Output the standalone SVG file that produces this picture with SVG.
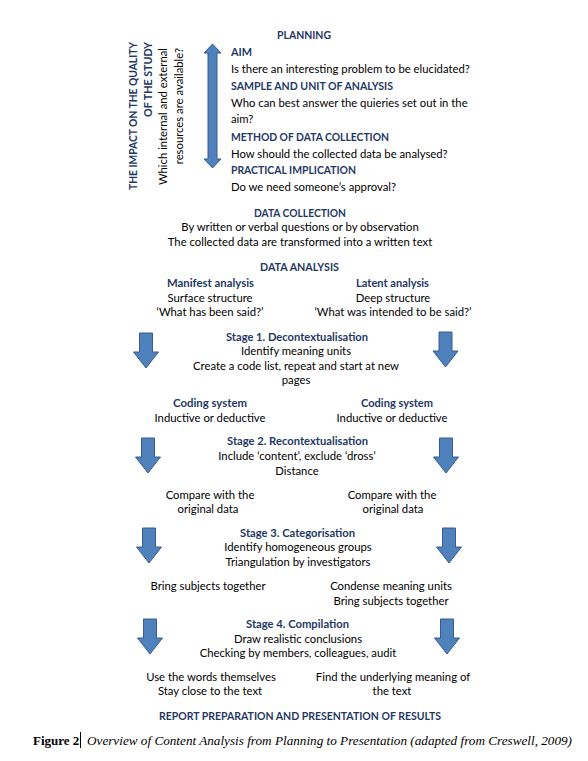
<svg xmlns="http://www.w3.org/2000/svg" width="588" height="761" viewBox="0 0 588 761">
<style>
.h{font-family:Lato,"Open Sans",sans-serif;font-weight:bold;font-size:11.5px;fill:#1F3864}
.t{font-family:Lato,"Open Sans",sans-serif;font-size:11.3px;fill:#000}
.m{text-anchor:middle}
.e{text-anchor:end}
.arr{fill:#4F81BD;stroke:#385D8A;stroke-width:1}
</style>
<defs>
<path id="down" d="M-6.5,0 L6.5,0 L6.5,19 L12.5,19 L0,35 L-12.5,19 L-6.5,19 Z"/>
</defs>
<rect width="588" height="761" fill="#fff"/>

<g id="connectors">
<path class="arr" d="M212.5,44 L221,53 L217,53 L217,159 L221,159 L212.5,168 L204,159 L208,159 L208,53 L204,53 Z"/>
<use href="#down" class="arr" transform="translate(146,333)"/>
<use href="#down" class="arr" transform="translate(445.5,332)"/>
<use href="#down" class="arr" transform="translate(148,438)"/>
<use href="#down" class="arr" transform="translate(446,438)"/>
<use href="#down" class="arr" transform="translate(149,528)"/>
<use href="#down" class="arr" transform="translate(449,528)"/>
<use href="#down" class="arr" transform="translate(150,619)"/>
<use href="#down" class="arr" transform="translate(447,619)"/>
</g>

<g id="impact">
<text class="h e" transform="translate(137,42) rotate(-90)" textLength="148" lengthAdjust="spacingAndGlyphs">THE IMPACT ON THE QUALITY</text>
<text class="h e" transform="translate(152,42) rotate(-90)" textLength="75" lengthAdjust="spacingAndGlyphs">OF THE STUDY</text>
<text class="t e" transform="translate(167,48) rotate(-90)">Which internal and external</text>
<text class="t e" transform="translate(183,48) rotate(-90)">resources are available?</text>
</g>

<g id="planning">
<text class="h" x="277" y="39" textLength="54" lengthAdjust="spacingAndGlyphs">PLANNING</text>
<text class="h" x="231" y="56" textLength="21" lengthAdjust="spacingAndGlyphs">AIM</text>
<text class="t" x="231" y="73">Is there an interesting problem to be elucidated?</text>
<text class="h" x="231" y="90" textLength="162" lengthAdjust="spacingAndGlyphs">SAMPLE AND UNIT OF ANALYSIS</text>
<text class="t" x="231" y="107">Who can best answer the quieries set out in the</text>
<text class="t" x="231" y="123">aim?</text>
<text class="h" x="231" y="141" textLength="158" lengthAdjust="spacingAndGlyphs">METHOD OF DATA COLLECTION</text>
<text class="t" x="231" y="158">How should the collected data be analysed?</text>
<text class="h" x="231" y="174" textLength="125" lengthAdjust="spacingAndGlyphs">PRACTICAL IMPLICATION</text>
<text class="t" x="231" y="191">Do we need someone’s approval?</text>
</g>

<g id="data-collection">
<text class="h" x="254" y="217" textLength="92" lengthAdjust="spacingAndGlyphs">DATA COLLECTION</text>
<text class="t m" x="300" y="231">By written or verbal questions or by observation</text>
<text class="t m" x="300" y="246">The collected data are transformed into a written text</text>
</g>

<g id="data-analysis">
<text class="h" x="260" y="271" textLength="79" lengthAdjust="spacingAndGlyphs">DATA ANALYSIS</text>
</g>

<g id="manifest">
<text class="h" x="167" y="287" textLength="87" lengthAdjust="spacingAndGlyphs">Manifest analysis</text>
<text class="t m" x="210" y="302">Surface structure</text>
<text class="t m" x="210" y="316">‘What has been said?’</text>
</g>

<g id="latent">
<text class="h" x="356" y="287" textLength="73" lengthAdjust="spacingAndGlyphs">Latent analysis</text>
<text class="t m" x="393" y="302">Deep structure</text>
<text class="t m" x="393" y="316">‘What was intended to be said?’</text>
</g>

<g id="stage1">
<text class="h" x="226" y="341" textLength="142" lengthAdjust="spacingAndGlyphs">Stage 1. Decontextualisation</text>
<text class="t m" x="296" y="355">Identify meaning units</text>
<text class="t m" x="296" y="370">Create a code list, repeat and start at new</text>
<text class="t m" x="296" y="384">pages</text>
</g>

<g id="coding-left">
<text class="h" x="173" y="407" textLength="74" lengthAdjust="spacingAndGlyphs">Coding system</text>
<text class="t m" x="210" y="422">Inductive or deductive</text>
</g>

<g id="coding-right">
<text class="h" x="361" y="407" textLength="72" lengthAdjust="spacingAndGlyphs">Coding system</text>
<text class="t m" x="392" y="422">Inductive or deductive</text>
</g>

<g id="stage2">
<text class="h" x="227" y="445" textLength="141" lengthAdjust="spacingAndGlyphs">Stage 2. Recontextualisation</text>
<text class="t m" x="297" y="460">Include ‘content’, exclude ‘dross’</text>
<text class="t m" x="297" y="475">Distance</text>
</g>

<g id="compare-left">
<text class="t m" x="210" y="499">Compare with the</text>
<text class="t m" x="208" y="513">original data</text>
</g>

<g id="compare-right">
<text class="t m" x="392" y="499">Compare with the</text>
<text class="t m" x="393" y="513">original data</text>
</g>

<g id="stage3">
<text class="h" x="240" y="537" textLength="115" lengthAdjust="spacingAndGlyphs">Stage 3. Categorisation</text>
<text class="t m" x="298" y="551">Identify homogeneous groups</text>
<text class="t m" x="298" y="566">Triangulation by investigators</text>
</g>

<g id="bring-left">
<text class="t m" x="208" y="590">Bring subjects together</text>
</g>

<g id="bring-right">
<text class="t m" x="391" y="590">Condense meaning units</text>
<text class="t m" x="391" y="605">Bring subjects together</text>
</g>

<g id="stage4">
<text class="h" x="246" y="628" textLength="103" lengthAdjust="spacingAndGlyphs">Stage 4. Compilation</text>
<text class="t m" x="298" y="643">Draw realistic conclusions</text>
<text class="t m" x="298" y="657">Checking by members, colleagues, audit</text>
</g>

<g id="words-left">
<text class="t m" x="211" y="681">Use the words themselves</text>
<text class="t m" x="210" y="695">Stay close to the text</text>
</g>

<g id="meaning-right">
<text class="t m" x="393" y="681">Find the underlying meaning of</text>
<text class="t m" x="392" y="695">the text</text>
</g>

<g id="report">
<text class="h" x="159" y="720" textLength="282" lengthAdjust="spacingAndGlyphs">REPORT PREPARATION AND PRESENTATION OF RESULTS</text>
</g>

<g id="caption">
<text x="33" y="745" font-family="'Liberation Serif',serif" font-weight="bold" font-size="13px" fill="#000">Figure 2</text>
<line x1="80.5" y1="732" x2="80.5" y2="748" stroke="#000" stroke-width="1"/>
<text x="87" y="745" font-family="'Liberation Serif',serif" font-style="italic" font-size="12.5px" fill="#000" textLength="485" lengthAdjust="spacingAndGlyphs">Overview of Content Analysis from Planning to Presentation (adapted from Creswell, 2009)</text>
</g>
</svg>
